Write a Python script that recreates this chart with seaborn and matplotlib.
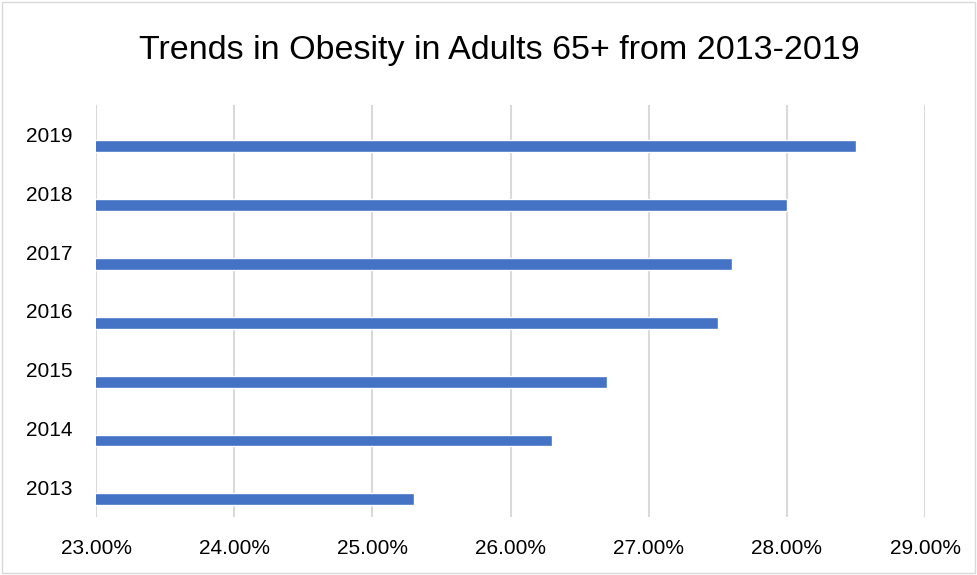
import matplotlib
matplotlib.use("Agg")
import matplotlib.pyplot as plt
import seaborn as sns
import pandas as pd
from matplotlib.ticker import FuncFormatter, FixedLocator
from matplotlib.patches import Rectangle

years = ["2019", "2018", "2017", "2016", "2015", "2014", "2013"]
obesity_pct = [28.5, 28.0, 27.6, 27.5, 26.7, 26.3, 25.3]
x_ticks = [23, 24, 25, 26, 27, 28, 29]
title = "Trends in Obesity in Adults 65+ from 2013-2019"

df = pd.DataFrame({"year": years, "pct": obesity_pct})

sns.set_theme(style="white")
plt.rcParams["font.family"] = ["Liberation Sans", "DejaVu Sans"]

fig = plt.figure(figsize=(9.77, 5.75), dpi=100)
ax = fig.add_axes([96 / 977, 1 - 517 / 575, (925 - 96) / 977, (517 - 105) / 575])

sns.barplot(data=df, x="pct", y="year", order=years, orient="h",
            width=0.2, color="#4472C4", saturation=1, ax=ax, zorder=3)
# Excel-style offset of the bar within its category slot
for p in ax.patches:
    p.set_y(p.get_y() + 0.2)

ax.set_xlim(23, 29)
ax.set_ylim(6.5, -0.5)
ax.xaxis.set_major_locator(FixedLocator(x_ticks))
ax.xaxis.set_major_formatter(FuncFormatter(lambda v, _: f"{v:.2f}%"))
ax.grid(axis="x", color="#D9D9D9", linewidth=1.5, zorder=0)
ax.set_axisbelow(True)
for s in ax.spines.values():
    s.set_visible(False)
ax.tick_params(axis="both", length=0, labelsize=15, colors="#000000")
ax.tick_params(axis="x", pad=16)
ax.tick_params(axis="y", pad=17)
ax.set_xlabel("")
ax.set_ylabel("")

fig.text(499 / 977, 1 - 50 / 575, title, ha="center", va="center",
         fontsize=24.5, color="#000000")

fig.patches.append(Rectangle((2 / 977, 2 / 575), 973 / 977, 571 / 575,
                             transform=fig.transFigure, fill=False,
                             edgecolor="#D9D9D9", linewidth=1))

fig.savefig("out.png", dpi=100)
